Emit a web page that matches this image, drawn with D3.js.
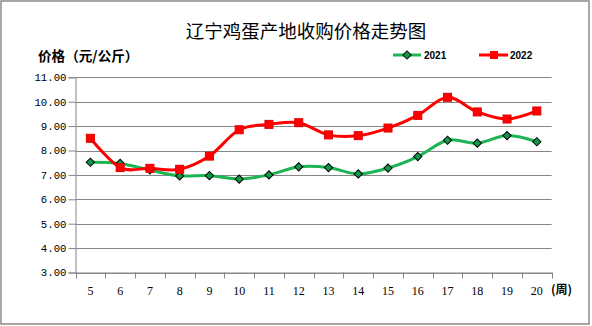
<!DOCTYPE html>
<html><head><meta charset="utf-8">
<script src="https://cdn.jsdelivr.net/npm/d3@7"></script>
<style>body{margin:0;background:#fff}svg{display:block}</style>
</head><body>
<script>
const weeks = ["5","6","7","8","9","10","11","12","13","14","15","16","17","18","19","20"];
const series2021 = [7.52,7.47,7.20,6.96,6.97,6.83,7.00,7.33,7.30,7.04,7.28,7.75,8.42,8.30,8.61,8.36];
const series2022 = [8.50,7.30,7.27,7.23,7.77,8.85,9.07,9.14,8.64,8.61,8.92,9.44,10.18,9.58,9.29,9.62];
const yTicks = [3,4,5,6,7,8,9,10,11];

const W=592,H=326;
const svg=d3.select("body").append("svg").attr("width",W).attr("height",H);
svg.append("rect").attr("x",1).attr("y",1).attr("width",588).attr("height",323)
  .attr("fill","#fff").attr("stroke","#8a8a8a").attr("stroke-width",1.5);

const x0=75.5,x1=551.7,yTop=77.3,yBot=272.5;
const x=d3.scaleBand().domain(weeks).range([x0,x1]);
const y=d3.scaleLinear().domain([3,11]).range([yBot,yTop]);

// gridlines
svg.append("g").selectAll("line").data(yTicks).join("line")
  .attr("x1",x0).attr("x2",x1).attr("y1",d=>Math.round(y(d))+0.5).attr("y2",d=>Math.round(y(d))+0.5)
  .attr("stroke","#868686").attr("stroke-width",1);

// y axis
const ya=svg.append("g").attr("transform",`translate(${x0},0)`)
  .call(d3.axisLeft(y).tickValues(yTicks).tickFormat(d3.format(".2f")).tickSize(7).tickPadding(2));
ya.select(".domain").attr("stroke","#868686");
ya.selectAll(".tick line").attr("stroke","#868686");
ya.selectAll("text").attr("font-family","Liberation Mono, monospace").attr("font-size","10.7px").attr("fill","#000");

// x axis
const xa=svg.append("g").attr("transform",`translate(0,${yBot})`)
  .call(d3.axisBottom(x).tickSize(0).tickPadding(14));
xa.select(".domain").attr("stroke","#868686");
xa.selectAll("text").attr("font-family","Liberation Serif, serif").attr("font-size","12px").attr("fill","#000");
const bounds=weeks.map(w=>x(w)).concat([x1]);
svg.append("g").selectAll("line").data(bounds).join("line")
  .attr("x1",d=>Math.round(d)+0.5).attr("x2",d=>Math.round(d)+0.5).attr("y1",yBot).attr("y2",yBot+6)
  .attr("stroke","#868686");

const cx=d=>x(d)+x.bandwidth()/2;
const line=d3.line().x((d,i)=>cx(weeks[i])).y(d=>y(d)).curve(d3.curveCatmullRom.alpha(0));

svg.append("path").datum(series2021).attr("d",line).attr("fill","none").attr("stroke","#1db454").attr("stroke-width",3);
svg.append("path").datum(series2022).attr("d",line).attr("fill","none").attr("stroke","#ff0000").attr("stroke-width",3);

const diamond=d3.symbol().type(d3.symbolSquare).size(34);
svg.append("g").selectAll("path").data(series2021).join("path")
  .attr("d",diamond()).attr("transform",(d,i)=>`translate(${cx(weeks[i])},${y(d)}) rotate(45)`)
  .attr("fill","#10994a").attr("stroke","#000").attr("stroke-width",1);
svg.append("g").selectAll("rect").data(series2022).join("rect")
  .attr("x",(d,i)=>cx(weeks[i])-4).attr("y",d=>y(d)-4).attr("width",8).attr("height",8)
  .attr("fill","#ff0000").attr("stroke","#e00000").attr("stroke-width",1);

// title
svg.append("text").attr("x",306).attr("y",38).attr("text-anchor","middle")
  .attr("font-family","Noto Sans CJK SC").attr("font-size","18.5px").attr("fill","#000").text("辽宁鸡蛋产地收购价格走势图");
svg.append("text").attr("x",38).attr("y",61).attr("font-family","Noto Sans CJK SC").attr("font-weight","bold")
  .attr("font-size","13.6px").attr("fill","#000").text("价格（元/公斤）");
svg.append("text").attr("x",551).attr("y",294).attr("font-family","Noto Sans CJK SC").attr("font-weight","bold")
  .attr("font-size","12px").attr("fill","#000").text("(周)");

// legend
const lg=svg.append("g");
lg.append("line").attr("x1",393).attr("x2",421).attr("y1",55).attr("y2",55).attr("stroke","#1db454").attr("stroke-width",3);
lg.append("path").attr("d",diamond()).attr("transform","translate(407,55) rotate(45)").attr("fill","#10994a").attr("stroke","#000");
lg.append("text").attr("x",424).attr("y",59).attr("font-family","Liberation Sans, Arial").attr("font-weight","bold").attr("font-size","10px").text("2021");
lg.append("line").attr("x1",479).attr("x2",508).attr("y1",55).attr("y2",55).attr("stroke","#ff0000").attr("stroke-width",3);
lg.append("rect").attr("x",490).attr("y",51).attr("width",8).attr("height",8).attr("fill","#ff0000");
lg.append("text").attr("x",510).attr("y",59).attr("font-family","Liberation Sans, Arial").attr("font-weight","bold").attr("font-size","10px").text("2022");
</script>
</body></html>
